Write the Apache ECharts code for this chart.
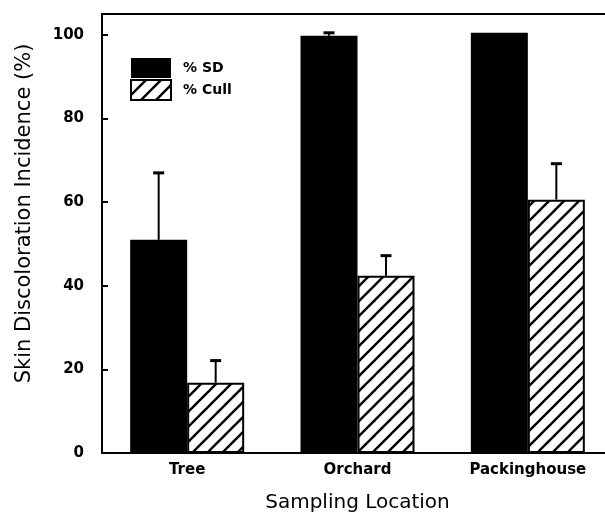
<!DOCTYPE html>
<html>
<head>
<meta charset="utf-8">
<script src="https://cdn.jsdelivr.net/npm/echarts@6/dist/echarts.min.js"></script>
<style>html,body{margin:0;padding:0;background:#fff;}#c{width:605px;height:516px;}</style>
</head>
<body>
<div id="c"></div>
<script>
const categories = ['Tree', 'Orchard', 'Packinghouse'];
const sdValues = [51, 99.8, 100.5];
const cullValues = [16.8, 42.4, 60.6];
const sdErrors = [16, 0.7, 0];
const cullErrors = [5.3, 4.8, 8.6];
const yTicks = [0, 20, 40, 60, 80, 100];

function hatch() {
  const s = 15;
  const c = document.createElement('canvas');
  c.width = s; c.height = s;
  const g = c.getContext('2d');
  g.fillStyle = '#fff'; g.fillRect(0, 0, s, s);
  g.strokeStyle = '#000'; g.lineWidth = 2.4;
  for (let k = -1; k <= 1; k++) {
    g.beginPath();
    g.moveTo(k * s - 2, s + 2);
    g.lineTo(k * s + s + 2, -2);
    g.stroke();
  }
  return c;
}
const BW = 57;
function errSeries(vals, errs, off) {
  return {
    type: 'custom',
    z: 1,
    data: vals.map((v, i) => [i, v, errs[i]]),
    renderItem: function (params, api) {
      const e = api.value(2);
      if (!e) return null;
      const p0 = api.coord([api.value(0), api.value(1)]);
      const p1 = api.coord([api.value(0), api.value(1) + e]);
      const x = p0[0] + off;
      return {
        type: 'group',
        children: [
          { type: 'line', shape: { x1: x, y1: p0[1], x2: x, y2: p1[1] }, style: { stroke: '#000', lineWidth: 2 } },
          { type: 'line', shape: { x1: x - 5.5, y1: p1[1], x2: x + 5.5, y2: p1[1] }, style: { stroke: '#000', lineWidth: 3 } }
        ]
      };
    }
  };
}
const chart = echarts.init(document.getElementById('c'));
chart.setOption({
  animation: false,
  backgroundColor: '#fff',
  grid: { left: 102, top: 14, width: 511, height: 439, outerBoundsMode: 'none', containLabel: false,
    show: true, borderColor: '#000', borderWidth: 2, backgroundColor: 'transparent' },
  legend: {
    orient: 'vertical', left: 130, top: 58, padding: 0, itemWidth: 40, itemHeight: 20, itemGap: 1,
    icon: 'rect',
    textStyle: { fontFamily: 'DejaVu Sans', fontWeight: 'bold', fontSize: 14, color: '#000', padding: [0, 0, 0, 7] },
    data: ['% SD', '% Cull']
  },
  xAxis: {
    type: 'category', data: categories,
    axisLine: { lineStyle: { color: '#000', width: 2 } },
    axisTick: { show: false },
    axisLabel: { color: '#000', fontFamily: 'DejaVu Sans', fontWeight: 'bold', fontSize: 15, margin: 10 },
    name: 'Sampling Location', nameLocation: 'middle', nameGap: 40,
    nameTextStyle: { color: '#000', fontFamily: 'DejaVu Sans', fontSize: 20 }
  },
  yAxis: {
    type: 'value', min: 0, max: 105, interval: 20,
    splitLine: { show: false },
    axisLine: { show: true, lineStyle: { color: '#000', width: 2 } },
    axisTick: { show: true, inside: true, length: 6, lineStyle: { color: '#000', width: 2 } },
    axisLabel: { color: '#000', fontFamily: 'DejaVu Sans', fontWeight: 'bold', fontSize: 15, margin: 18,
      formatter: v => yTicks.indexOf(v) >= 0 ? String(v) : '' },
    name: 'Skin Discoloration Incidence (%)', nameLocation: 'middle', nameGap: 67,
    nameTextStyle: { color: '#000', fontFamily: 'DejaVu Sans', fontSize: 21, padding: [0, 0, 0, 40] }
  },
  series: [
    { name: '% SD', type: 'bar', data: sdValues, barWidth: BW, barGap: '0%', itemStyle: { color: '#000' } },
    { name: '% Cull', type: 'bar', data: cullValues, barWidth: BW, barGap: '0%',
      itemStyle: { color: { image: hatch(), repeat: 'repeat' }, borderColor: '#000', borderWidth: 2 } },
    errSeries(sdValues, sdErrors, -BW / 2),
    errSeries(cullValues, cullErrors, BW / 2)
  ]
});
</script>
</body>
</html>
